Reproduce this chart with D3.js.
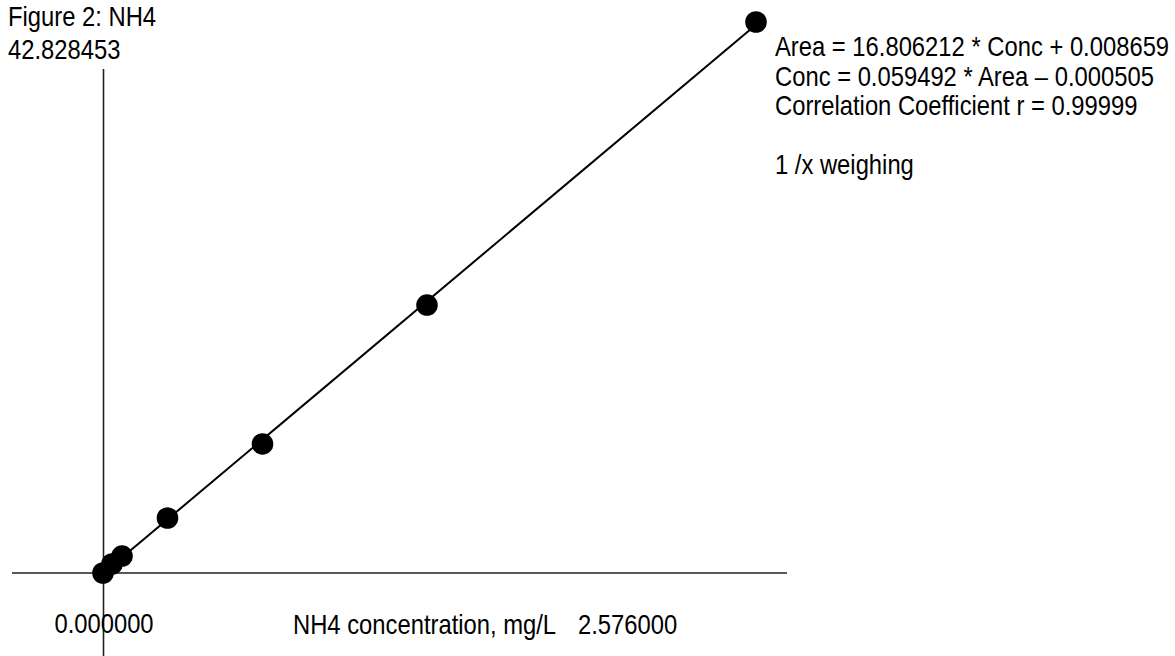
<!DOCTYPE html>
<html>
<head>
<meta charset="utf-8">
<script src="https://cdn.jsdelivr.net/npm/d3@7"></script>
<style>
  html, body { margin: 0; padding: 0; background: #fff; }
  text { font-family: "Liberation Sans", Arial, sans-serif; font-size: 28px; fill: #000; }
</style>
</head>
<body>
<svg id="chart" width="1175" height="656"></svg>
<script>
// Calibration standards
var Concentrations = [0, 0.0355, 0.075, 0.2544, 0.6292, 1.2781, 2.576];
var Areas = [0, 0.70, 1.32, 4.275, 10.03, 20.83, 42.828453];
// Axis range labels
var XMax = 2.576;
var YMax = 42.828453;
var Title = "Figure 2: NH4";
var XLabel = "NH4 concentration, mg/L";
var FitLines = [
    "Area = 16.806212 * Conc + 0.008659",
    "Conc = 0.059492 * Area \u2013 0.000505",
    "Correlation Coefficient r = 0.99999",
    "",
    "1 /x weighing"
];

var Svg = d3.select("#chart");
var X = d3.scaleLinear().domain([0, XMax]).range([103, 756]);
var Y = d3.scaleLinear().domain([0, YMax]).range([573, 22]);

// The reference uses a narrow sans face: squeeze the regular one
var Narrow = 0.85;
function AddText(Parent, PX, PY, Str, Anchor) {
    return Parent.append("text")
        .attr("transform", `translate(${PX},${PY}) scale(${Narrow},1)`)
        .attr("text-anchor", Anchor || "start")
        .text(Str);
}

// Axes: plain crossing lines
Svg.append("line")
    .attr("x1", 12).attr("x2", 787)
    .attr("y1", Y(0)).attr("y2", Y(0))
    .attr("stroke", "#222").attr("stroke-width", 1.6);
Svg.append("line")
    .attr("x1", X(0) + 0.5).attr("x2", X(0) + 0.5)
    .attr("y1", 69).attr("y2", 656)
    .attr("stroke", "#222").attr("stroke-width", 1.6);

// Least squares fit of the read points
var MeanX = d3.mean(Concentrations), MeanY = d3.mean(Areas);
var Sxy = d3.sum(Concentrations, (C, I) => (C - MeanX) * (Areas[I] - MeanY));
var Sxx = d3.sum(Concentrations, (C) => (C - MeanX) * (C - MeanX));
var Slope = Sxy / Sxx, Intercept = MeanY - Slope * MeanX;
var Ends = [0, XMax];
Svg.append("line")
    .attr("x1", X(Ends[0])).attr("y1", Y(Slope * Ends[0] + Intercept))
    .attr("x2", X(Ends[1])).attr("y2", Y(Slope * Ends[1] + Intercept))
    .attr("stroke", "#000").attr("stroke-width", 2);

// Points
Svg.append("g").selectAll("circle")
    .data(Concentrations)
    .join("circle")
    .attr("cx", (C) => X(C))
    .attr("cy", (C, I) => Y(Areas[I]))
    .attr("r", 10.8)
    .attr("fill", "#000");

// Texts
AddText(Svg, 8, 26, Title);
AddText(Svg, 8, 59, YMax.toFixed(6));
AddText(Svg, X(0) + 1, 633, (0).toFixed(6), "middle");
AddText(Svg, 293, 634, XLabel);
AddText(Svg, 578, 634, XMax.toFixed(6));
FitLines.forEach((T, I) => AddText(Svg, 775, 56 + I * 29.5, T));
</script>
</body>
</html>
